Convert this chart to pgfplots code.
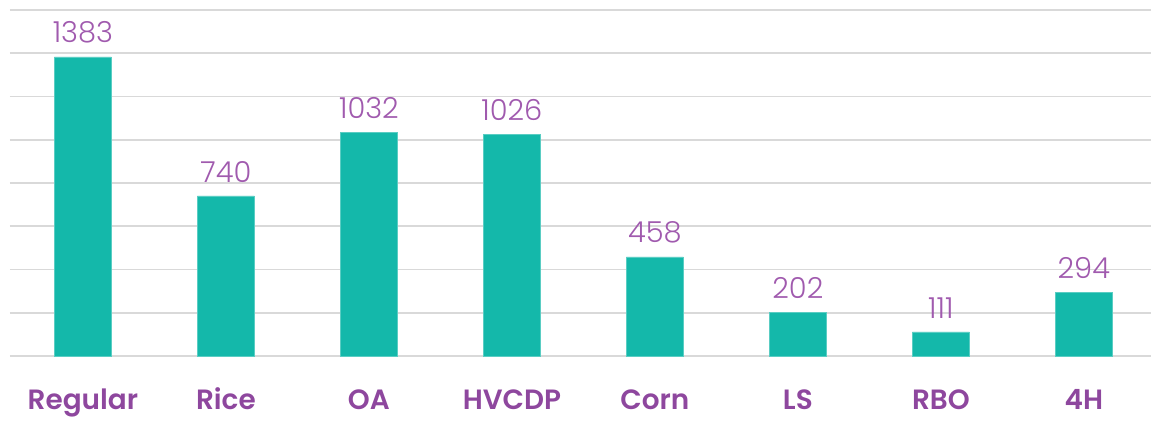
\documentclass[border=0pt]{standalone}
\usepackage{pgfplots}
\pgfplotsset{compat=1.18}
\usepackage{fontspec}
\setmainfont{Poppins}
\newfontfamily\numfont{Poppins}[UprightFont=* Light]
\newfontfamily\labfont{Poppins}[UprightFont=* SemiBold]
\definecolor{barteal}{HTML}{14B8AA}
\definecolor{labpurple}{HTML}{8E479E}
\definecolor{numpurple}{HTML}{A05AAE}
\definecolor{gridgray}{HTML}{D9D9D9}
\begin{document}
\begin{tikzpicture}
\begin{axis}[
  at={(0,0)}, anchor=south west,
  scale only axis,
  width=1141bp, height=346bp,
  xmin=-0.51, xmax=7.47,
  ymin=0, ymax=1600,
  ybar, bar width=57bp,
  axis line style={draw=none},
  tick style={draw=none},
  ytick={0,200,...,1600},
  yticklabels={},
  ymajorgrids,
  grid style={gridgray, line width=1.6bp},
  xtick=data,
  xticklabels={Regular,Rice,OA,HVCDP,Corn,LS,RBO,4H},
  xticklabel style={font=\labfont\fontsize{28}{30}\selectfont, text=labpurple, anchor=base, yshift=-49bp},
  /pgf/number format/.cd, 1000 sep={}, assume math mode=true,
  /pgfplots/.cd,
  nodes near coords,
  every node near coord/.append style={font=\numfont\fontsize{29}{30}\selectfont, text=numpurple, yshift=10bp},
  clip=false,
]
\addplot[fill=barteal, draw=barteal!70!white, line width=0.8bp] coordinates {
(0,1383) (1,740) (2,1032) (3,1026) (4,458) (5,202) (6,111) (7,294)};
\end{axis}
\pgfresetboundingbox
\path (-10bp,-69bp) rectangle (1141bp,356bp);
\end{tikzpicture}
\end{document}
